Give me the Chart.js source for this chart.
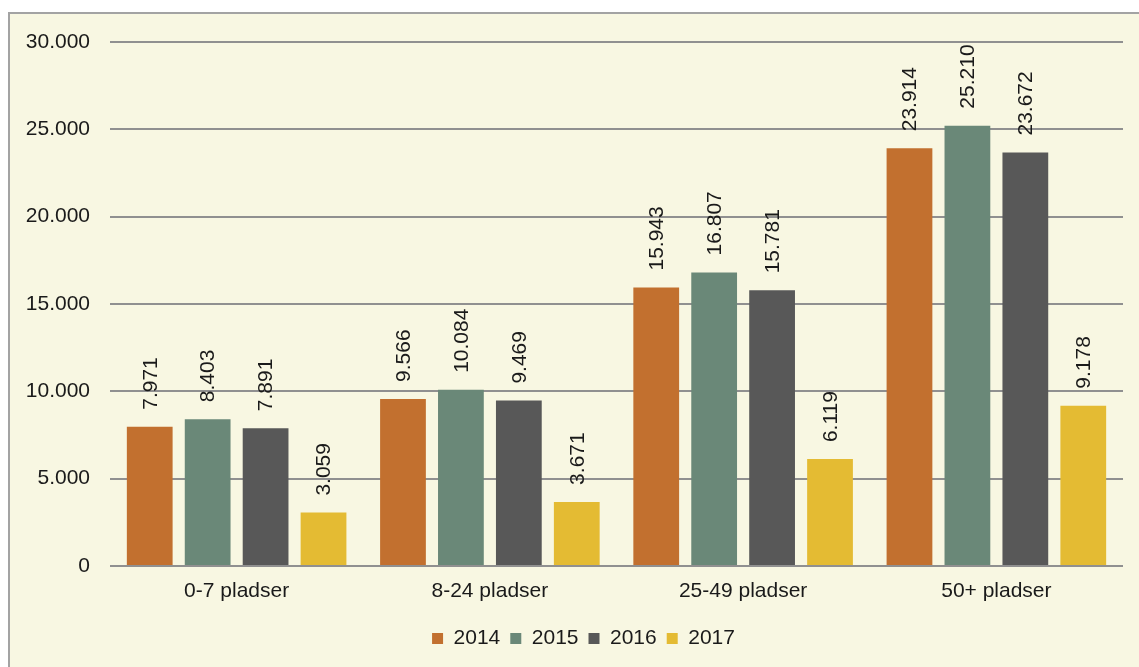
<!DOCTYPE html>
<html>
<head>
<meta charset="utf-8">
<script src="https://cdn.jsdelivr.net/npm/chart.js@4/dist/chart.umd.min.js"></script>
<style>
    html, body { margin: 0; padding: 0; background: #ffffff; }
    #frame {
        position: absolute;
        left: 8px; top: 12px;
        width: 1140px; height: 670px;
        border-left: 2px solid #a3a3a3;
        border-top: 2px solid #a3a3a3;
        background: #f8f7e2;
    }
    #wrap { position: absolute; left: 0; top: 0; width: 1139px; height: 667px; }
</style>
</head>
<body>
<div id="frame"></div>
<div id="wrap"><canvas id="chart"></canvas></div>
<script>
// Chart data
const categories = ['0-7 pladser', '8-24 pladser', '25-49 pladser', '50+ pladser'];
const years = ['2014', '2015', '2016', '2017'];
const values2014 = [7971, 9566, 15943, 23914];
const values2015 = [8403, 10084, 16807, 25210];
const values2016 = [7891, 9469, 15781, 23672];
const values2017 = [3059, 3671, 6119, 9178];
const yTicks = [0, 5000, 10000, 15000, 20000, 25000, 30000];

const colors = ['#c2702f', '#6a8878', '#585858', '#e4bb33'];
const FONT = { family: '"Liberation Sans", Arial, sans-serif', size: 21 };

// Danish thousands separator
function fmt(v) {
    return String(v).replace(/\B(?=(\d{3})+(?!\d))/g, '.');
}

// Rotated value labels above each bar
const barLabels = {
    id: 'barLabels',
    afterDatasetsDraw(chart) {
        const ctx = chart.ctx;
        ctx.save();
        ctx.font = `${FONT.size}px ${FONT.family}`;
        ctx.fillStyle = '#1a1a1a';
        ctx.textAlign = 'left';
        ctx.textBaseline = 'middle';
        chart.data.datasets.forEach((ds, i) => {
            const meta = chart.getDatasetMeta(i);
            meta.data.forEach((bar, j) => {
                ctx.save();
                ctx.translate(bar.x, bar.y - 17);
                ctx.rotate(-Math.PI / 2);
                ctx.fillText(fmt(ds.data[j]), 0, 1);
                ctx.restore();
            });
        });
        ctx.restore();
    }
};

// Nudge the legend a bit to the right, like the original
const legendShift = {
    id: 'legendShift',
    afterLayout(chart) {
        chart.legend.left += 22;
        chart.legend.right += 22;
    }
};

const seriesValues = [values2014, values2015, values2016, values2017];

new Chart(document.getElementById('chart').getContext('2d'), {
    type: 'bar',
    data: {
        labels: categories,
        datasets: years.map((y, i) => ({
            label: y,
            data: seriesValues[i],
            backgroundColor: colors[i],
            borderWidth: 0,
            categoryPercentage: 0.915,
            barPercentage: 0.79
        }))
    },
    options: {
        responsive: true,
        maintainAspectRatio: false,
        animation: false,
        layout: { padding: { left: 0, right: 16, top: 42, bottom: 8 } },
        scales: {
            x: {
                grid: { display: false, drawTicks: false },
                border: { display: false },
                ticks: { color: '#1a1a1a', font: FONT, padding: 13 },
                afterFit: (s) => { s.height = 52; }
            },
            y: {
                min: 0,
                max: 30000,
                afterBuildTicks: (s) => { s.ticks = yTicks.map(v => ({ value: v })); },
                grid: { color: '#909090', lineWidth: 2, drawTicks: false },
                border: { display: false },
                ticks: {
                    color: '#1a1a1a',
                    font: FONT,
                    padding: 20,
                    callback: (v) => fmt(v)
                },
                afterFit: (s) => { s.width = 110; }
            }
        },
        plugins: {
            legend: {
                position: 'bottom',
                labels: {
                    boxWidth: 11,
                    boxHeight: 11,
                    padding: 10,
                    color: '#1a1a1a',
                    font: FONT
                }
            },
            tooltip: { enabled: false }
        }
    },
    plugins: [barLabels, legendShift]
});
</script>
</body>
</html>
